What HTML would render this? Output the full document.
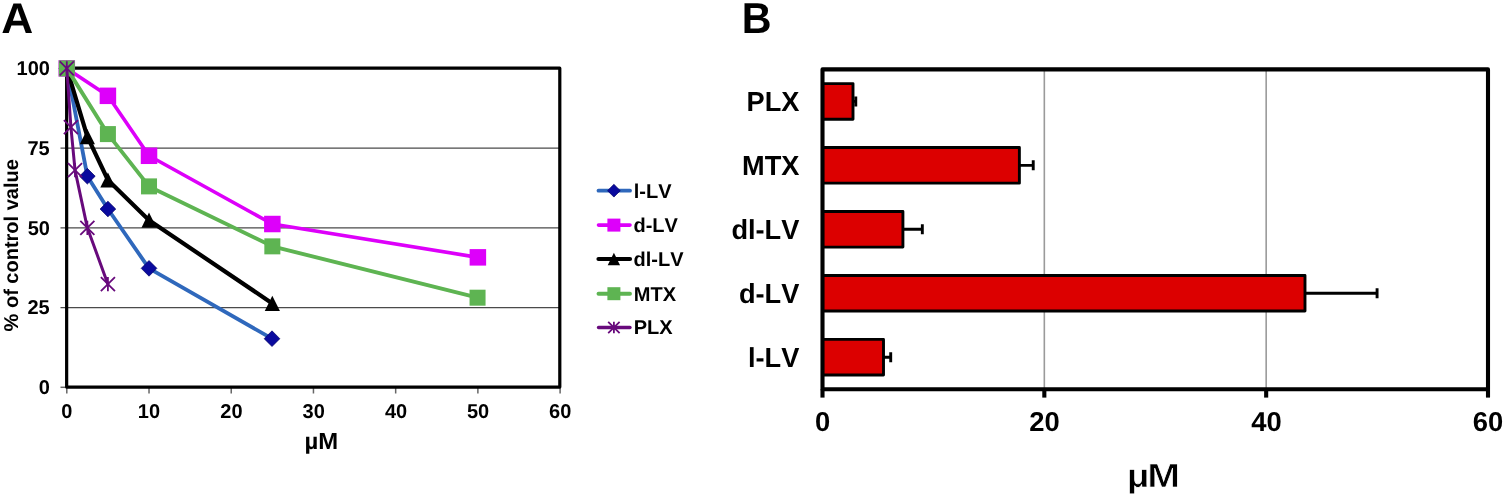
<!DOCTYPE html>
<html lang="en"><head><meta charset="utf-8"><title>Figure</title>
<style>
html,body{margin:0;padding:0;background:#fff;}
body{width:1505px;height:497px;overflow:hidden;}
svg{display:block;}
text{font-family:"Liberation Sans",Arial,Helvetica,sans-serif;font-weight:bold;fill:#000;font-kerning:none;text-rendering:geometricPrecision;}
</style></head><body>
<svg width="1505" height="497" viewBox="0 0 1505 497">
<rect width="1505" height="497" fill="#fff"/>
<text transform="translate(1.3 32.55) scale(1.030 1.000)" font-size="43">A</text>
<text transform="translate(741.84 32.8) scale(0.957 1.000)" font-size="43.1">B</text>
<g id="chartA">
<line x1="60.5" y1="307.58" x2="560.1" y2="307.58" stroke="#4a4a4a" stroke-width="1.3"/>
<line x1="60.5" y1="227.85" x2="560.1" y2="227.85" stroke="#4a4a4a" stroke-width="1.3"/>
<line x1="60.5" y1="148.12" x2="560.1" y2="148.12" stroke="#4a4a4a" stroke-width="1.3"/>
<line x1="60.5" y1="387.3" x2="66.8" y2="387.3" stroke="#666" stroke-width="1.5"/>
<line x1="66.8" y1="387.3" x2="66.8" y2="393.5" stroke="#666" stroke-width="1.5"/>
<line x1="149.02" y1="387.3" x2="149.02" y2="393.5" stroke="#666" stroke-width="1.5"/>
<line x1="231.23" y1="387.3" x2="231.23" y2="393.5" stroke="#666" stroke-width="1.5"/>
<line x1="313.45" y1="387.3" x2="313.45" y2="393.5" stroke="#666" stroke-width="1.5"/>
<line x1="395.67" y1="387.3" x2="395.67" y2="393.5" stroke="#666" stroke-width="1.5"/>
<line x1="477.88" y1="387.3" x2="477.88" y2="393.5" stroke="#666" stroke-width="1.5"/>
<line x1="560.1" y1="387.3" x2="560.1" y2="393.5" stroke="#666" stroke-width="1.5"/>
<rect x="66.65" y="68.15" width="493.15" height="318.9" fill="none" stroke="#000" stroke-width="3.2" stroke-linejoin="round"/>
<path d="M66.8 68.4L87.35 176.19L107.91 209.03L149.02 268.35L272.01 338.67" fill="none" stroke="#2F68BC" stroke-width="3.8" stroke-linejoin="round" stroke-linecap="round"/>
<path d="M66.8 60.56L74.64 68.4L66.8 76.24L58.96 68.4Z" fill="#0A0A9E" stroke="#000064" stroke-width="0.7"/>
<path d="M87.35 168.35L95.19 176.19L87.35 184.03L79.51 176.19Z" fill="#0A0A9E" stroke="#000064" stroke-width="0.7"/>
<path d="M107.91 201.19L115.75 209.03L107.91 216.87L100.07 209.03Z" fill="#0A0A9E" stroke="#000064" stroke-width="0.7"/>
<path d="M149.02 260.51L156.86 268.35L149.02 276.19L141.18 268.35Z" fill="#0A0A9E" stroke="#000064" stroke-width="0.7"/>
<path d="M272.01 330.83L279.85 338.67L272.01 346.51L264.17 338.67Z" fill="#0A0A9E" stroke="#000064" stroke-width="0.7"/>
<path d="M66.8 68.4L107.91 95.83L149.02 155.78L272.34 224.02L477.88 257.35" fill="none" stroke="#DD00FA" stroke-width="3.6" stroke-linejoin="round" stroke-linecap="round"/>
<rect x="58.55" y="60.15" width="16.5" height="16.5" fill="#DD00FA"/>
<rect x="99.66" y="87.58" width="16.5" height="16.5" fill="#DD00FA"/>
<rect x="140.77" y="147.53" width="16.5" height="16.5" fill="#DD00FA"/>
<rect x="264.09" y="215.77" width="16.5" height="16.5" fill="#DD00FA"/>
<rect x="469.63" y="249.1" width="16.5" height="16.5" fill="#DD00FA"/>
<path d="M66.8 68.4L87.35 136.64L107.91 180.02L149.02 220.2L272.34 303.43" fill="none" stroke="#000000" stroke-width="4.2" stroke-linejoin="round" stroke-linecap="round"/>
<path d="M66.8 60.8L74.4 76L59.2 76Z" fill="#000000"/>
<path d="M87.35 129.04L94.95 144.24L79.75 144.24Z" fill="#000000"/>
<path d="M107.91 172.42L115.51 187.62L100.31 187.62Z" fill="#000000"/>
<path d="M149.02 212.6L156.62 227.8L141.42 227.8Z" fill="#000000"/>
<path d="M272.34 295.83L279.94 311.03L264.74 311.03Z" fill="#000000"/>
<path d="M66.8 68.4L107.91 134.09L149.02 186.39L272.34 246.35L477.55 297.69" fill="none" stroke="#5EB452" stroke-width="3.9" stroke-linejoin="round" stroke-linecap="round"/>
<rect x="58.8" y="60.4" width="16" height="16" fill="#5EB452"/>
<rect x="99.91" y="126.09" width="16" height="16" fill="#5EB452"/>
<rect x="141.02" y="178.39" width="16" height="16" fill="#5EB452"/>
<rect x="264.34" y="238.35" width="16" height="16" fill="#5EB452"/>
<rect x="469.55" y="289.69" width="16" height="16" fill="#5EB452"/>
<path d="M66.8 68.4L70.91 127.08L75.02 170.13L87.35 227.85L107.91 284.14" fill="none" stroke="#680A7C" stroke-width="3.0" stroke-linejoin="round" stroke-linecap="round"/>
<path d="M59.76 61.36L73.84 75.44M59.76 75.44L73.84 61.36M66.8 61.36L66.8 75.44" stroke="#680A7C" stroke-width="1.8" fill="none"/>
<path d="M63.87 120.04L77.95 134.12M63.87 134.12L77.95 120.04M70.91 120.04L70.91 134.12" stroke="#680A7C" stroke-width="1.8" fill="none"/>
<path d="M67.98 163.09L82.06 177.17M67.98 177.17L82.06 163.09M75.02 163.09L75.02 177.17" stroke="#680A7C" stroke-width="1.8" fill="none"/>
<path d="M80.31 220.81L94.39 234.89M80.31 234.89L94.39 220.81M87.35 220.81L87.35 234.89" stroke="#680A7C" stroke-width="1.8" fill="none"/>
<path d="M100.87 277.1L114.95 291.18M100.87 291.18L114.95 277.1M107.91 277.1L107.91 291.18" stroke="#680A7C" stroke-width="1.8" fill="none"/>
<text transform="translate(38.8 394.2)" font-size="20">0</text>
<text transform="translate(27.41 314.48)" font-size="20">25</text>
<text transform="translate(27.67 234.75)" font-size="20">50</text>
<text transform="translate(27.41 155.03)" font-size="20">75</text>
<text transform="translate(16.55 75.3)" font-size="20">100</text>
<text transform="translate(61.35 417.6)" font-size="20">0</text>
<text transform="translate(137.77 417.6)" font-size="20">10</text>
<text transform="translate(220.27 417.6)" font-size="20">20</text>
<text transform="translate(302.61 417.6)" font-size="20">30</text>
<text transform="translate(384.9 417.6)" font-size="20">40</text>
<text transform="translate(466.96 417.6)" font-size="20">50</text>
<text transform="translate(549.12 417.6)" font-size="20">60</text>
<text transform="translate(304.38 448.9) scale(1.030 1.000)" font-size="23.2">µM</text>
<text transform="translate(18.2 331.43) rotate(-90)" font-size="20">% of control value</text>
<line x1="598.5" y1="190.7" x2="630" y2="190.7" stroke="#2F68BC" stroke-width="3.8" stroke-linecap="round"/>
<path d="M613.9 184.33L620.27 190.7L613.9 197.07L607.53 190.7Z" fill="#0A0A9E" stroke="#000064" stroke-width="0.7"/>
<text transform="translate(633.7 197.6)" font-size="20">l-LV</text>
<line x1="598.5" y1="225.1" x2="630" y2="225.1" stroke="#DD00FA" stroke-width="3.6" stroke-linecap="round"/>
<rect x="607.4" y="218.6" width="13" height="13" fill="#DD00FA"/>
<text transform="translate(633.48 232)" font-size="20">d-LV</text>
<line x1="598.5" y1="259" x2="630" y2="259" stroke="#000000" stroke-width="4.2" stroke-linecap="round"/>
<path d="M613.9 252.82L620.07 265.18L607.73 265.18Z" fill="#000000"/>
<text transform="translate(633.48 265.9)" font-size="20">dl-LV</text>
<line x1="598.5" y1="293.7" x2="630" y2="293.7" stroke="#5EB452" stroke-width="3.9" stroke-linecap="round"/>
<rect x="607.4" y="287.2" width="13" height="13" fill="#5EB452"/>
<text transform="translate(633.76 300.6)" font-size="20">MTX</text>
<line x1="598.5" y1="327.5" x2="630" y2="327.5" stroke="#680A7C" stroke-width="3.3" stroke-linecap="round"/>
<path d="M608.18 321.78L619.62 333.22M608.18 333.22L619.62 321.78M613.9 321.78L613.9 333.22" stroke="#680A7C" stroke-width="1.8" fill="none"/>
<text transform="translate(633.76 334.4)" font-size="20">PLX</text>
</g>
<g id="chartB">
<line x1="1044.33" y1="69.4" x2="1044.33" y2="389.2" stroke="#9a9a9a" stroke-width="1.6"/>
<line x1="1266.17" y1="69.4" x2="1266.17" y2="389.2" stroke="#9a9a9a" stroke-width="1.6"/>
<rect x="822.5" y="83.58" width="30.5" height="35.6" fill="#DC0000" stroke="#000" stroke-width="2.9" stroke-linejoin="round"/>
<path d="M853 101.38L855.77 101.38M855.77 96.38L855.77 106.38" stroke="#000" stroke-width="2.9" fill="none"/>
<text transform="translate(746.54 110.73) scale(1.000 1.010)" font-size="27.2">PLX</text>
<rect x="822.5" y="147.54" width="196.88" height="35.6" fill="#DC0000" stroke="#000" stroke-width="2.9" stroke-linejoin="round"/>
<path d="M1019.38 165.34L1033.24 165.34M1033.24 160.34L1033.24 170.34" stroke="#000" stroke-width="2.9" fill="none"/>
<text transform="translate(742.02 174.69) scale(1.000 1.010)" font-size="27.2">MTX</text>
<rect x="822.5" y="211.5" width="80.41" height="35.6" fill="#DC0000" stroke="#000" stroke-width="2.9" stroke-linejoin="round"/>
<path d="M902.91 229.3L922.33 229.3M922.33 224.3L922.33 234.3" stroke="#000" stroke-width="2.9" fill="none"/>
<text transform="translate(731.4 238.65) scale(1.000 1.010)" font-size="27.2">dl-LV</text>
<rect x="822.5" y="275.46" width="482.49" height="35.6" fill="#DC0000" stroke="#000" stroke-width="2.9" stroke-linejoin="round"/>
<path d="M1304.99 293.26L1377.08 293.26M1377.08 288.26L1377.08 298.26" stroke="#000" stroke-width="2.9" fill="none"/>
<text transform="translate(738.96 302.61) scale(1.000 1.010)" font-size="27.2">d-LV</text>
<rect x="822.5" y="339.42" width="61" height="35.6" fill="#DC0000" stroke="#000" stroke-width="2.9" stroke-linejoin="round"/>
<path d="M883.5 357.22L890.71 357.22M890.71 352.22L890.71 362.22" stroke="#000" stroke-width="2.9" fill="none"/>
<text transform="translate(748.01 366.57) scale(1.000 1.010)" font-size="27.2">l-LV</text>
<rect x="822.5" y="69.4" width="665.5" height="319.8" fill="none" stroke="#000" stroke-width="4.1" stroke-linejoin="round"/>
<line x1="822.5" y1="389.2" x2="822.5" y2="397.6" stroke="#000" stroke-width="4.1"/>
<text transform="translate(814.9 430.7)" font-size="27.4">0</text>
<line x1="1044.33" y1="389.2" x2="1044.33" y2="397.6" stroke="#000" stroke-width="4.1"/>
<text transform="translate(1029.18 430.7)" font-size="27.4">20</text>
<line x1="1266.17" y1="389.2" x2="1266.17" y2="397.6" stroke="#000" stroke-width="4.1"/>
<text transform="translate(1251.28 430.7)" font-size="27.4">40</text>
<line x1="1488" y1="389.2" x2="1488" y2="397.6" stroke="#000" stroke-width="4.1"/>
<text transform="translate(1472.82 430.7)" font-size="27.4">60</text>
<text stroke="#fff" stroke-width="0.7" transform="translate(1126.71 486.8) scale(1.175 1.000)" font-size="33.5" letter-spacing="-1.9">µM</text>
</g>
</svg></body></html>
